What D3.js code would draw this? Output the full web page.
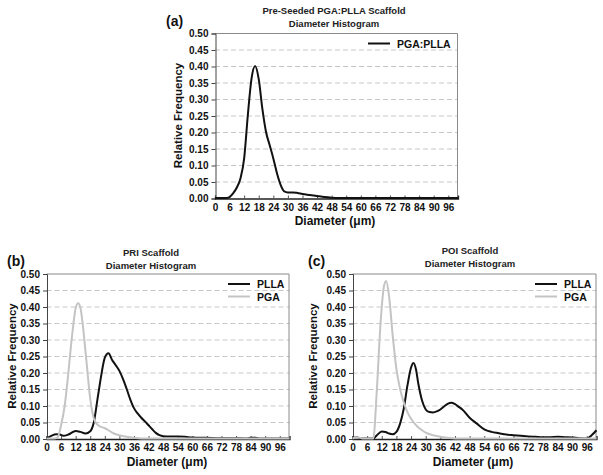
<!DOCTYPE html>
<html>
<head>
<meta charset="utf-8">
<script src="https://cdn.jsdelivr.net/npm/d3@7"></script>
<style>
  html, body { margin: 0; padding: 0; background: #fff; }
  svg { display: block; font-family: "Liberation Sans", Arial, Helvetica, sans-serif; font-weight: bold; }
</style>
</head>
<body>
<svg id="chart" width="603" height="475"></svg>
<script>
// ---------- DATA ----------
const xTicks = [0, 6, 12, 18, 24, 30, 36, 42, 48, 54, 60, 66, 72, 78, 84, 90, 96];
const yTicks = [0.00, 0.05, 0.10, 0.15, 0.20, 0.25, 0.30, 0.35, 0.40, 0.45, 0.50];

// (a) Pre-Seeded PGA:PLLA
const aDiam = [0, 3, 5, 6, 7.5, 9, 10.5, 12, 13.5, 15, 16.5, 18, 19.5, 21, 22.5, 24, 25.5, 27, 28.5, 30, 32, 34, 36, 39, 42, 45, 48, 51, 60, 70, 80, 90, 100];
const aBlend = [0, 0, 0, 0.003, 0.015, 0.032, 0.06, 0.12, 0.25, 0.36, 0.40, 0.36, 0.27, 0.20, 0.16, 0.12, 0.075, 0.04, 0.02, 0.017, 0.017, 0.015, 0.012, 0.009, 0.006, 0.003, 0.001, 0, 0, 0, 0, 0, 0];

// (b) PRI scaffold
const bDiamPLLA = [0, 2, 4, 5.5, 7, 9, 12, 14, 16, 18, 19.5, 21, 22.5, 24, 25.5, 27, 28.5, 30, 31.5, 33, 34.5, 36, 37.5, 39, 40.5, 42, 43.5, 45, 46.5, 48, 51, 54, 57, 60, 66, 72, 78, 82, 84, 86, 88, 94, 100];
const bPLLA = [0, 0.008, 0.013, 0.012, 0.008, 0.012, 0.023, 0.02, 0.015, 0.022, 0.05, 0.12, 0.19, 0.245, 0.258, 0.238, 0.222, 0.205, 0.18, 0.15, 0.118, 0.092, 0.076, 0.063, 0.052, 0.04, 0.028, 0.017, 0.01, 0.007, 0.006, 0.006, 0.005, 0.003, 0.002, 0.001, 0.001, 0, 0.002, 0.002, 0, 0, 0];
const bDiamPGA = [0, 3, 4.5, 6, 7.5, 9, 10.5, 12, 13, 14, 15, 16.5, 18, 19.5, 21, 22.5, 24, 25.5, 27, 28.5, 30, 33, 36, 39, 42, 60, 80, 100];
const bPGA = [0, 0, 0.003, 0.04, 0.1, 0.2, 0.31, 0.395, 0.41, 0.395, 0.34, 0.23, 0.12, 0.06, 0.042, 0.035, 0.031, 0.025, 0.018, 0.013, 0.01, 0.005, 0.002, 0, 0, 0, 0, 0];

// (c) POI scaffold
const cDiamPLLA = [0, 2, 3.5, 6, 8.5, 10, 12, 13.5, 15, 16.5, 18, 19.5, 21, 22.5, 24, 25, 26, 27, 28.5, 30, 31.5, 33, 34.5, 36, 37.5, 39, 40.5, 42, 43.5, 45, 48, 51, 54, 57, 60, 63, 66, 69, 72, 75, 78, 81, 84, 87, 90, 93, 96, 98, 100];
const cPLLA = [0.002, 0.003, 0, 0, 0, 0.01, 0.021, 0.02, 0.015, 0.013, 0.02, 0.045, 0.09, 0.16, 0.215, 0.229, 0.21, 0.165, 0.115, 0.088, 0.08, 0.079, 0.082, 0.088, 0.097, 0.105, 0.108, 0.104, 0.096, 0.088, 0.063, 0.045, 0.028, 0.02, 0.016, 0.012, 0.01, 0.008, 0.006, 0.005, 0.004, 0.004, 0.005, 0.004, 0.003, 0.001, 0, 0.01, 0.025];
const cDiamPGA = [0, 1, 3, 4, 8.5, 10, 11.5, 13, 13.8, 15, 16.5, 18, 19.5, 21, 22.5, 24, 25.5, 27, 28.5, 30, 33, 36, 39, 42, 60, 80, 100];
const cPGA = [0, 0.002, 0.002, 0, 0, 0.15, 0.35, 0.465, 0.477, 0.43, 0.31, 0.21, 0.15, 0.11, 0.08, 0.06, 0.045, 0.033, 0.025, 0.018, 0.01, 0.005, 0.002, 0, 0, 0, 0];

// ---------- DRAW ----------
const svg = d3.select("#chart");
const BLACK = "#111";
const GRAY = "#c4c4c4";

function panel(cfg) {
  const x = d3.scaleLinear().domain([0, 100]).range([cfg.left, cfg.right]);
  const y = d3.scaleLinear().domain([0, 0.5]).range([cfg.bottom, cfg.top]);
  const g = svg.append("g");

  // gridlines (dashed)
  g.selectAll("line.grid").data(yTicks.filter(d => d > 0 && d < 0.5)).join("line")
    .attr("x1", cfg.left).attr("x2", cfg.right)
    .attr("y1", d => y(d) + 0.5).attr("y2", d => y(d) + 0.5)
    .attr("stroke", "#c8c8c8").attr("stroke-width", 1).attr("stroke-dasharray", "5,3");

  // plot border (top/right)
  g.append("path")
    .attr("d", `M${cfg.left},${cfg.top + 0.5}H${cfg.right - 0.5}V${cfg.bottom}`)
    .attr("fill", "none").attr("stroke", "#8a8a8a").attr("stroke-width", 1);

  // y axis
  const yAxis = d3.axisLeft(y).tickValues(yTicks).tickFormat(d3.format(".2f")).tickSize(4).tickPadding(3);
  const ya = g.append("g").attr("transform", `translate(${cfg.left + 0.5},0.5)`).call(yAxis);
  ya.select(".domain").attr("stroke", "#444");
  ya.selectAll(".tick line").attr("stroke", "#444");
  ya.selectAll("text").attr("font-size", 10).attr("font-weight", "bold").attr("fill", "#111")
    .attr("font-family", '"Liberation Sans", Arial, sans-serif');

  // x axis
  const xAxis = d3.axisBottom(x).tickValues(xTicks).tickSize(-3).tickPadding(5);
  const xa = g.append("g").attr("transform", `translate(0,${cfg.bottom + 0.5})`).call(xAxis);
  xa.select(".domain").attr("stroke", "#222").attr("stroke-width", 1.3);
  xa.selectAll(".tick line").attr("stroke", "#555");
  xa.selectAll("text").attr("font-size", 10).attr("font-weight", "bold").attr("fill", "#111")
    .attr("font-family", '"Liberation Sans", Arial, sans-serif');

  // series
  const line = d3.line().x(d => x(d[0])).y(d => y(d[1])).curve(d3.curveMonotoneX);
  cfg.series.forEach(s => {
    g.append("path")
      .datum(s.xs.map((v, i) => [v, s.ys[i]]))
      .attr("d", line)
      .attr("fill", "none").attr("stroke", s.color).attr("stroke-width", 2)
      .attr("stroke-linejoin", "round");
  });

  // legend
  cfg.series.forEach((s, i) => {
    const ly = cfg.legendY + i * 12.5;
    g.append("line").attr("x1", cfg.legendX).attr("x2", cfg.legendX + 22)
      .attr("y1", ly).attr("y2", ly).attr("stroke", s.color).attr("stroke-width", 2);
    g.append("text").attr("x", cfg.legendX + 29).attr("y", ly + 4)
      .attr("font-size", 10.5).attr("fill", "#111").text(s.name);
  });

  // titles
  cfg.title.forEach((t, i) => {
    g.append("text").attr("x", cfg.titleX).attr("y", cfg.titleY + i * 13)
      .attr("text-anchor", "middle").attr("font-size", 9.5).attr("fill", "#222").text(t);
  });
  g.append("text").attr("x", cfg.letterX).attr("y", cfg.letterY)
    .attr("font-size", 14).attr("fill", "#111").text(cfg.letter);

  // axis titles
  g.append("text").attr("x", cfg.xTitleX).attr("y", cfg.bottom + 27)
    .attr("text-anchor", "middle").attr("font-size", 12).attr("fill", "#111").text("Diameter (\u03bcm)");
  g.append("text")
    .attr("transform", `translate(${cfg.yTitleX},${(cfg.top + cfg.bottom) / 2}) rotate(-90)`)
    .attr("text-anchor", "middle").attr("font-size", 11.5).attr("fill", "#111").text("Relative Frequency");
}

panel({
  left: 215, right: 458, top: 33, bottom: 198,
  title: ["Pre-Seeded PGA:PLLA Scaffold", "Diameter Histogram"], titleX: 334, titleY: 13.5,
  letter: "(a)", letterX: 166, letterY: 26,
  xTitleX: 335, yTitleX: 182,
  legendX: 368, legendY: 43.5,
  series: [{ name: "PGA:PLLA", xs: aDiam, ys: aBlend, color: BLACK }]
});

panel({
  left: 46.5, right: 289.5, top: 273.5, bottom: 438.5,
  title: ["PRI Scaffold", "Diameter Histogram"], titleX: 151, titleY: 256,
  letter: "(b)", letterX: 7, letterY: 266,
  xTitleX: 167, yTitleX: 16,
  legendX: 228, legendY: 284,
  series: [
    { name: "PLLA", xs: bDiamPLLA, ys: bPLLA, color: BLACK },
    { name: "PGA", xs: bDiamPGA, ys: bPGA, color: GRAY }
  ]
});

panel({
  left: 352.5, right: 596.5, top: 273.5, bottom: 438.5,
  title: ["POI Scaffold", "Diameter Histogram"], titleX: 470, titleY: 254,
  letter: "(c)", letterX: 308, letterY: 266,
  xTitleX: 473, yTitleX: 317,
  legendX: 535, legendY: 284,
  series: [
    { name: "PLLA", xs: cDiamPLLA, ys: cPLLA, color: BLACK },
    { name: "PGA", xs: cDiamPGA, ys: cPGA, color: GRAY }
  ]
});
</script>
</body>
</html>
